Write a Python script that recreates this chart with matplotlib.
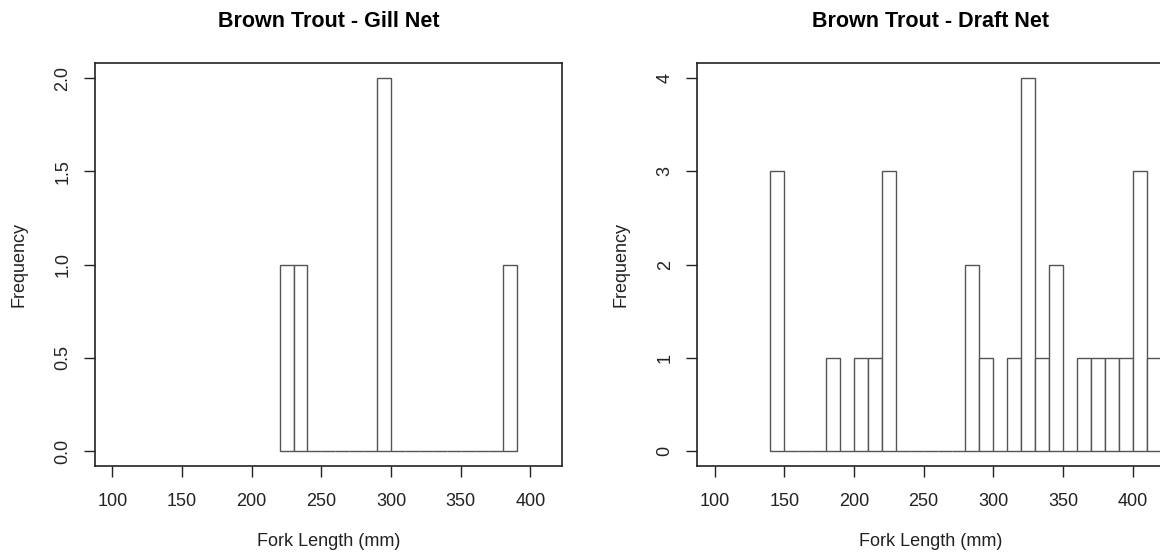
import numpy as np
import matplotlib
matplotlib.use('Agg')
import matplotlib.pyplot as plt

plt.rcParams['font.family'] = ['Liberation Sans', 'DejaVu Sans']

# Gill net: 10 mm bins starting at 220
gill_start = 220
gill_counts = [1, 1, 0, 0, 0, 0, 0, 2, 0, 0, 0, 0, 0, 0, 0, 0, 1]

# Draft net: 10 mm bins starting at 140
draft_start = 140
draft_counts = [3, 0, 0, 0, 1, 0, 1, 1, 3, 0, 0, 0, 0, 0,
                2, 1, 0, 1, 4, 1, 2, 0, 1, 1, 1, 1, 3, 1]

bin_width = 10
x_ticks = [100, 150, 200, 250, 300, 350, 400]
gill_yticks = [0, 0.5, 1.0, 1.5, 2.0]
gill_ylabels = ['0.0', '0.5', '1.0', '1.5', '2.0']
draft_yticks = [0, 1, 2, 3, 4]
draft_ylabels = ['0', '1', '2', '3', '4']

titles = ['Brown Trout - Gill Net', 'Brown Trout - Draft Net']

W, H = 1160, 555
fig = plt.figure(figsize=(W / 100, H / 100), dpi=100)

ax_w = 466.7 / W
ax_h = 402.7 / H
ax_b = (H - 466) / H
ax1 = fig.add_axes([95 / W, ax_b, ax_w, ax_h])
ax2 = fig.add_axes([697.3 / W, ax_b, ax_w, ax_h])


def draw_hist(ax, start, counts, yticks, ylabels, title):
    lefts = start + bin_width * np.arange(len(counts))
    ax.bar(lefts, counts, width=bin_width, align='edge', color='white',
           edgecolor='#555555', linewidth=1.0)
    top = max(counts)
    ax.set_xlim(100 - 0.04 * 310, 410 + 0.04 * 310)
    ax.set_ylim(-0.04 * top, top * 1.04)
    ax.set_xticks(x_ticks)
    ax.set_xticklabels([str(t) for t in x_ticks])
    ax.set_yticks(yticks)
    ax.set_yticklabels(ylabels, rotation=90, va='center')
    ax.tick_params(axis='both', length=8, width=1.0, color='#222222',
                   labelsize=13, labelcolor='#222222')
    ax.tick_params(axis='x', pad=11.5)
    ax.tick_params(axis='y', pad=9)
    for s in ax.spines.values():
        s.set_linewidth(1.2)
        s.set_color('#222222')
    ax.set_xlabel('Fork Length (mm)', fontsize=13, color='#222222', va='center')
    ax.xaxis.set_label_coords(0.5, -0.1877)
    ax.set_ylabel('Frequency', fontsize=13, color='#222222', va='center')
    ax.yaxis.set_label_coords(-0.163, 0.5)
    ax.set_title(title, fontsize=15.5, fontweight='bold', y=1.1045,
                 va='center', pad=0)


draw_hist(ax1, gill_start, gill_counts, gill_yticks, gill_ylabels, titles[0])
draw_hist(ax2, draft_start, draft_counts, draft_yticks, draft_ylabels, titles[1])

fig.savefig('out.png', dpi=100)
